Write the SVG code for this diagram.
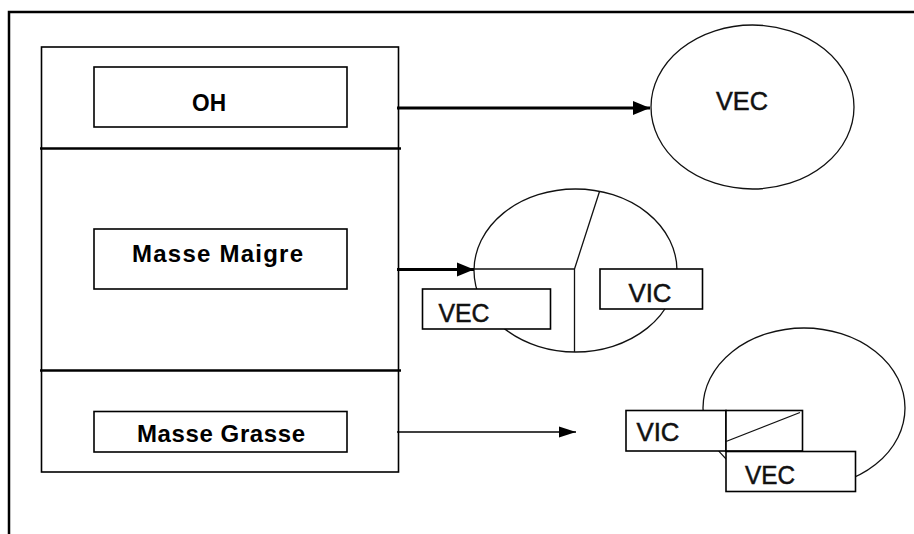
<svg xmlns="http://www.w3.org/2000/svg" width="914" height="534" viewBox="0 0 914 534">
<style>
.frame{fill:none;stroke:#000;stroke-width:2.5}
.box{fill:#fff;stroke:#000;stroke-width:1.6}
.div{stroke:#000;stroke-width:2.6}
.ell{fill:#fff;stroke:#111;stroke-width:1.3}
.thin{stroke:#111;stroke-width:1.3;fill:none}
.bl{font-family:"Liberation Sans",Arial,sans-serif;font-weight:bold;font-size:24px;fill:#000}
.rg{font-family:"Liberation Sans",Arial,sans-serif;font-size:26px;fill:#111;stroke:#111;stroke-width:0.5}
.conn{stroke:#000;fill:none}
</style>
<defs>
<marker id="ahBig" markerUnits="userSpaceOnUse" markerWidth="18" markerHeight="16" refX="17" refY="8" orient="auto">
<path d="M0,1 L17,8 L0,15 Z" fill="#000"/>
</marker>
<marker id="ahSmall" markerUnits="userSpaceOnUse" markerWidth="18" markerHeight="14" refX="17" refY="7" orient="auto">
<path d="M0,1.5 L17,7 L0,12.5 Z" fill="#000"/>
</marker>
</defs>
<rect width="914" height="534" fill="#fff"/>
<path class="frame" d="M9,534 L9,12 L914,12"/>

<g id="compartments">
<rect class="box" x="41.5" y="47" width="357" height="425"/>
<line class="div" x1="40" y1="148.5" x2="401" y2="148.5"/>
<line class="div" x1="40" y1="370.5" x2="401" y2="370.5"/>
</g>

<g id="node-oh">
<rect class="box" x="94" y="67" width="253" height="60"/>
<text class="bl" x="192" y="111" textLength="34" lengthAdjust="spacingAndGlyphs">OH</text>
</g>
<g id="node-masse-maigre">
<rect class="box" x="94" y="229" width="253" height="60"/>
<text class="bl" x="132" y="262" textLength="171" lengthAdjust="spacing">Masse Maigre</text>
</g>
<g id="node-masse-grasse">
<rect class="box" x="94" y="411.5" width="253" height="40.5"/>
<text class="bl" x="137" y="441.5" textLength="168" lengthAdjust="spacing">Masse Grasse</text>
</g>

<g id="node-vec-top">
<ellipse class="ell" cx="752.5" cy="107" rx="101.5" ry="82"/>
<text class="rg" x="716" y="109.5" textLength="52" lengthAdjust="spacingAndGlyphs">VEC</text>
</g>

<g id="node-middle">
<ellipse class="ell" cx="575.5" cy="270.5" rx="101.5" ry="81.5"/>
<path class="thin" d="M474,269 L574.5,269 L574.5,352 M574.5,269 L599.5,191.5"/>
<rect class="box" x="422.5" y="289" width="128" height="40"/>
<text class="rg" x="438.5" y="322" textLength="51" lengthAdjust="spacingAndGlyphs">VEC</text>
<rect class="box" x="600" y="269" width="102.5" height="40"/>
<text class="rg" x="628.5" y="302" textLength="43" lengthAdjust="spacingAndGlyphs">VIC</text>
</g>

<g id="node-bottom">
<ellipse class="ell" cx="804" cy="408" rx="101" ry="80"/>
<rect class="box" x="626" y="410.5" width="100" height="40.5"/>
<rect class="box" x="726" y="410.5" width="76.5" height="40.5"/>
<line class="thin" x1="726" y1="441.5" x2="800" y2="412.5"/>
<text class="rg" x="636.5" y="441" textLength="43" lengthAdjust="spacingAndGlyphs">VIC</text>
<rect class="box" x="726" y="451.5" width="129.5" height="40"/>
<text class="rg" x="745" y="483.5" textLength="50" lengthAdjust="spacingAndGlyphs">VEC</text>
</g>

<g id="connectors">
<line class="conn" x1="397" y1="108" x2="650" y2="108" stroke-width="3" marker-end="url(#ahBig)"/>
<line class="conn" x1="397" y1="269.5" x2="474" y2="269.5" stroke-width="3" marker-end="url(#ahBig)"/>
<line class="conn" x1="397" y1="432" x2="576" y2="432" stroke-width="1.3" marker-end="url(#ahSmall)"/>
</g>
</svg>
